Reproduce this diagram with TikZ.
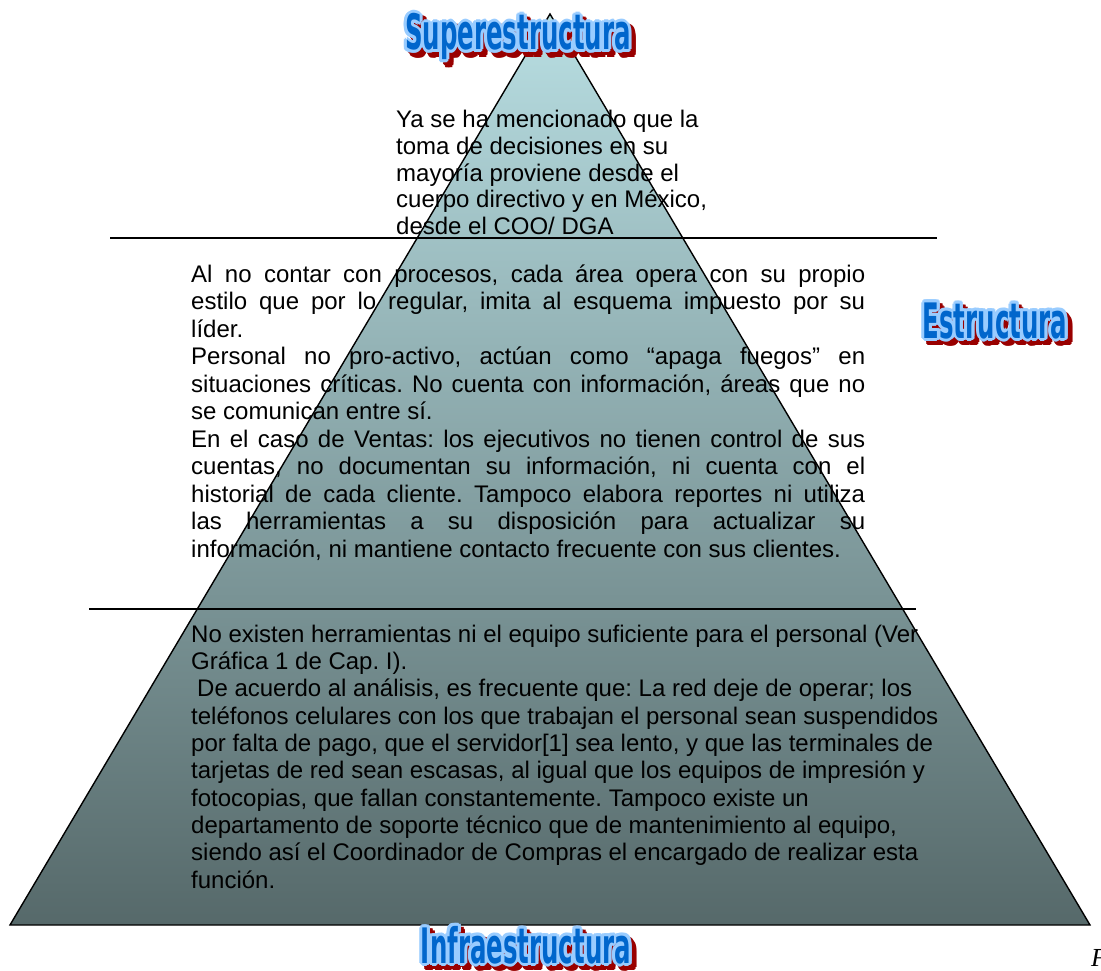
\documentclass[tikz,border=0pt]{standalone}
\usepackage{fontspec}
\usepackage{graphicx}
\usetikzlibrary{calc}
\setmainfont{Liberation Sans}
\newfontfamily\serifit{Liberation Serif}
\newfontfamily\wafont{DejaVu Sans}

\definecolor{pyrTop}{RGB}{184,222,226}
\definecolor{pyrBot}{RGB}{86,105,106}
\definecolor{waText}{RGB}{0,102,204}
\definecolor{waGlow}{RGB}{153,204,255}
\definecolor{waShadow}{RGB}{153,0,0}

% condensed display lettering for the three level headings
\newcommand\headingtext[1]{\scalebox{0.52}[1.04]{\wafont\bfseries\fontsize{47}{47}\selectfont #1}}

% WordArt-like heading: red drop shadow, light blue halo, blue letters
% #1 node name, #2 anchor coordinate (base centre), #3 text
\newcommand\wordartnode[3]{%
  \foreach \ang in {0,30,...,330}{%
    \node[heading, text=waShadow] (#1s\ang)
      at ($(#2)+({4.5+3*cos(\ang)},{4.5+3*sin(\ang)})$) {\headingtext{#3}};}
  \foreach \ang in {0,30,...,330}{%
    \node[heading, text=waGlow] (#1g\ang)
      at ($(#2)+({3*cos(\ang)},{3*sin(\ang)})$) {\headingtext{#3}};}
  \node[heading, text=waText] (#1) at (#2) {\headingtext{#3}};
}

\newcommand\jline[1]{\makebox[674pt][s]{#1}}

\tikzset{
  blocktext/.style={inner sep=0pt, align=left, anchor=base west},
  heading/.style={inner sep=0pt, anchor=base},
  pyredge/.style={draw=black, line width=1.4pt, line join=miter},
  divider/.style={draw=black, line width=1.5pt}
}

\begin{document}
\frenchspacing
\begin{tikzpicture}[x=1pt,y=-1pt]
\useasboundingbox (0,0) rectangle (1101,971);

% pyramid
\coordinate (apex) at (550,14);
\coordinate (bl) at (10,925);
\coordinate (br) at (1090,925);
\shade[top color=pyrTop, bottom color=pyrBot] (apex) -- (br) -- (bl) -- cycle;
\draw[pyredge] (apex) -- (br) -- (bl) -- cycle;

% level dividers
\coordinate (d1a) at (110,238);
\coordinate (d1b) at (937,238);
\coordinate (d2a) at (89,609);
\coordinate (d2b) at (916,609);
\draw[divider] (d1a) -- (d1b);
\draw[divider] (d2a) -- (d2b);

% level texts (anchored on the baseline of their last line)
\node[blocktext, font=\fontsize{24}{26.7}\selectfont] (txtsup) at (396,234.5) {%
Ya se ha mencionado que la\\
toma de decisiones en su\\
mayoría proviene desde el\\
cuerpo directivo y en México,\\
desde el COO/ DGA};

\node[blocktext, font=\fontsize{24}{27.5}\selectfont] (txtest) at (191,557) {%
\jline{Al no contar con procesos, cada área opera con su propio}\\
\jline{estilo que por lo regular, imita al esquema impuesto por su}\\
líder.\\
\jline{Personal no pro-activo, actúan como “apaga fuegos” en}\\
\jline{situaciones críticas. No cuenta con información, áreas que no}\\
se comunican entre sí.\\
\jline{En el caso de Ventas: los ejecutivos no tienen control de sus}\\
\jline{cuentas, no documentan su información, ni cuenta con el}\\
\jline{historial de cada cliente. Tampoco elabora reportes ni utiliza}\\
\jline{las herramientas a su disposición para actualizar su}\\
información, ni mantiene contacto frecuente con sus clientes.};

\node[blocktext, font=\fontsize{24}{27.3}\selectfont] (txtinf) at (191,888) {%
No existen herramientas ni el equipo suficiente para el personal (Ver\\
Gráfica 1 de Cap. I).\\
\hspace*{6pt}De acuerdo al análisis, es frecuente que: La red deje de operar; los\\
teléfonos celulares con los que trabajan el personal sean suspendidos\\
por falta de pago, que el servidor[1] sea lento, y que las terminales de\\
tarjetas de red sean escasas, al igual que los equipos de impresión y\\
fotocopias, que fallan constantemente. Tampoco existe un\\
departamento de soporte técnico que de mantenimiento al equipo,\\
siendo así el Coordinador de Compras el encargado de realizar esta\\
función.};

% headings
\coordinate (hsupc) at (518,50);
\coordinate (hestc) at (995,338);
\coordinate (hinfc) at (526,963);
\wordartnode{hsup}{hsupc}{Superestructura}
\wordartnode{hest}{hestc}{Estructura}
\wordartnode{hinf}{hinfc}{Infraestructura}

% trailing letter at the page edge
\node[inner sep=0pt, anchor=base west, font=\serifit\itshape\fontsize{26}{26}\selectfont] (fmark) at (1091,966) {F};
\end{tikzpicture}
\end{document}
